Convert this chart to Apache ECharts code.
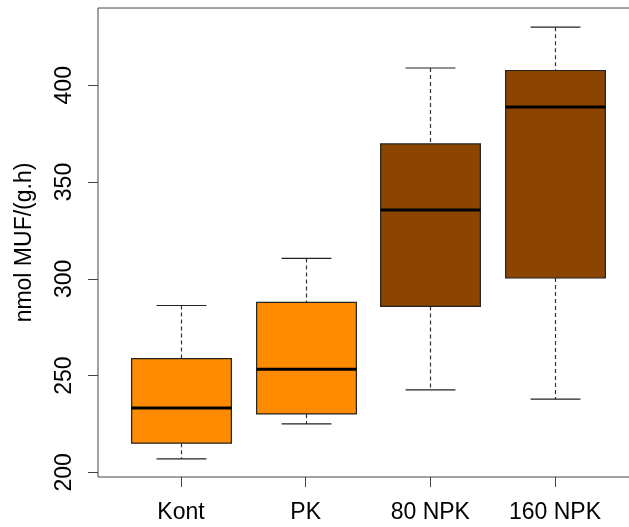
<!DOCTYPE html>
<html>
<head>
<meta charset="utf-8">
<script src="https://cdn.jsdelivr.net/npm/echarts@6/dist/echarts.min.js"></script>
<style>
html,body{margin:0;padding:0;background:#fff;}
#chart{width:629px;height:527px;}
</style>
</head>
<body>
<div id="chart"></div>
<script>
var categories = ['Kont', 'PK', '80 NPK', '160 NPK'];
var lowerWhisker = [207, 225, 242.6, 237.8];
var q1Values = [215.1, 230.2, 285.7, 300.4];
var medianValues = [233.3, 253.3, 335.6, 388.7];
var q3Values = [258.8, 287.8, 369.7, 407.6];
var upperWhisker = [286.2, 310.5, 408.9, 430];
var boxColors = ['#FF8C00', '#FF8C00', '#8B4500', '#8B4500'];
var yTicks = [200, 250, 300, 350, 400];
var yTitle = 'nmol MUF/(g.h)';

var data = categories.map(function (c, i) {
  return [i + 1, lowerWhisker[i], q1Values[i], medianValues[i], q3Values[i], upperWhisker[i]];
});
var xPositions = categories.map(function (c, i) { return i + 1; });

var FONT = '"Liberation Sans", Arial, sans-serif';
var chart = echarts.init(document.getElementById('chart'), null, {renderer: 'canvas'});

chart.setOption({
  animation: false,
  backgroundColor: '#fff',
  grid: {
    left: 98, width: 540, top: 8, height: 469,
    outerBoundsMode: 'none', containLabel: false,
    show: true, borderColor: '#444', borderWidth: 1, backgroundColor: 'transparent'
  },
  xAxis: {
    type: 'value', min: 0.334, max: 4.666,
    splitLine: {show: false},
    axisLine: {show: false},
    axisTick: {show: true, length: 10, customValues: xPositions, lineStyle: {color: '#444', width: 1}},
    axisLabel: {
      customValues: xPositions, margin: 24,
      fontFamily: FONT, fontSize: 23, color: '#000',
      formatter: function (v) { return categories[Math.round(v) - 1] || ''; }
    }
  },
  yAxis: {
    type: 'value', min: 197.6, max: 439.9,
    splitLine: {show: false},
    axisLine: {show: false},
    axisTick: {show: true, length: 10, customValues: yTicks, lineStyle: {color: '#444', width: 1}},
    axisLabel: {
      customValues: yTicks, rotate: 90, margin: 22,
      fontFamily: FONT, fontSize: 23, color: '#000'
    },
    name: yTitle, nameLocation: 'middle', nameRotate: 90, nameGap: 62,
    nameTextStyle: {fontFamily: FONT, fontSize: 23, color: '#000'}
  },
  series: [{
    type: 'custom',
    data: data,
    encode: {x: 0, y: [1, 2, 3, 4, 5]},
    renderItem: function (params, api) {
      var x = api.value(0);
      var idx = params.dataIndex;
      var lo = api.coord([x, api.value(1)]);
      var pq1 = api.coord([x, api.value(2)]);
      var pm = api.coord([x, api.value(3)]);
      var pq3 = api.coord([x, api.value(4)]);
      var hi = api.coord([x, api.value(5)]);
      var halfBox = api.size([0.4, 0])[0];
      var halfCap = api.size([0.2, 0])[0];
      var cx = Math.round(lo[0]) + 0.5;
      var dashStyle = {stroke: '#333', lineWidth: 1.2, lineDash: [4, 3]};
      var solid = {stroke: '#222', lineWidth: 1.2};
      return {
        type: 'group',
        children: [
          {type: 'line', shape: {x1: cx, y1: hi[1], x2: cx, y2: pq3[1]}, style: dashStyle},
          {type: 'line', shape: {x1: cx, y1: pq1[1], x2: cx, y2: lo[1]}, style: dashStyle},
          {type: 'line', shape: {x1: cx - halfCap, y1: hi[1], x2: cx + halfCap, y2: hi[1]}, style: solid},
          {type: 'line', shape: {x1: cx - halfCap, y1: lo[1], x2: cx + halfCap, y2: lo[1]}, style: solid},
          {type: 'rect', shape: {x: cx - halfBox, y: pq3[1], width: 2 * halfBox, height: pq1[1] - pq3[1]},
            style: {fill: boxColors[idx], stroke: '#222', lineWidth: 1.2}},
          {type: 'line', shape: {x1: cx - halfBox, y1: pm[1], x2: cx + halfBox, y2: pm[1]},
            style: {stroke: '#000', lineWidth: 3}}
        ]
      };
    }
  }]
});
</script>
</body>
</html>
